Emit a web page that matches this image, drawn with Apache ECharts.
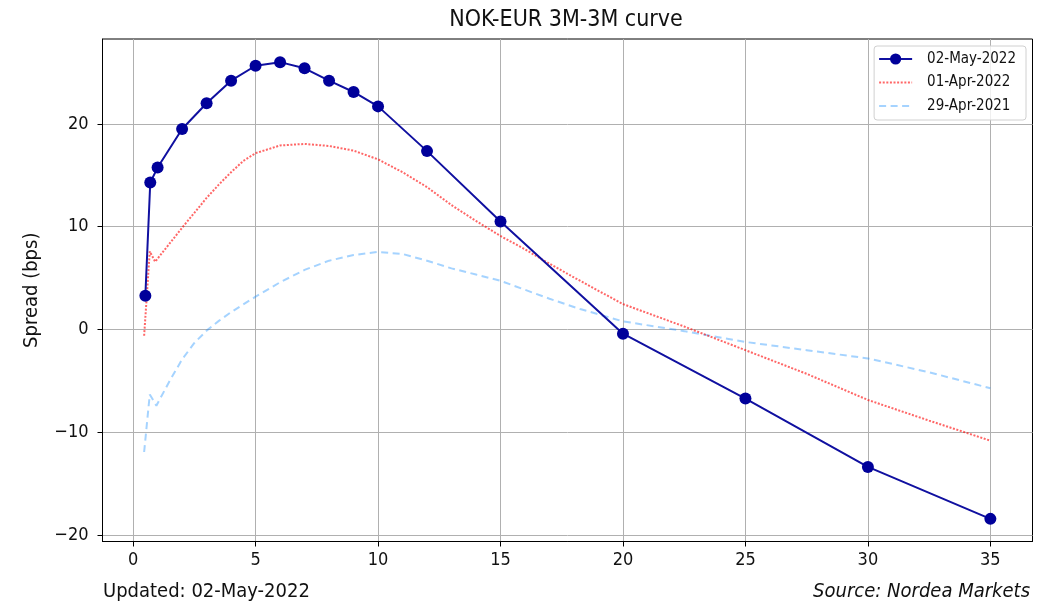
<!DOCTYPE html>
<html>
<head>
<meta charset="utf-8">
<script src="https://cdn.jsdelivr.net/npm/echarts@6/dist/echarts.min.js"></script>
<style>
html,body{margin:0;padding:0;background:#fff;}
#chart{width:1050px;height:605px;}
</style>
</head>
<body>
<div id="chart"></div>
<script>
// ---- data ----
const seriesNames = ['02-May-2022', '01-Apr-2022', '29-Apr-2021'];

const xMay2022 = [0.5, 0.7, 1, 2, 3, 4, 5, 6, 7, 8, 9, 10, 12, 15, 20, 25, 30, 35];
const yMay2022 = [3.3, 14.3, 15.75, 19.5, 22.0, 24.2, 25.65, 26.0, 25.4, 24.2, 23.1, 21.7, 17.35, 10.5, -0.4, -6.7, -13.35, -18.4];

const xApr2022 = [0.45, 0.68, 0.9, 1.5, 2, 2.5, 3, 3.5, 4, 4.5, 5, 6, 7, 8, 9, 10, 11, 12, 13, 14, 15, 16, 17, 18, 19, 20, 22.5, 25, 27.5, 30, 32.5, 35];
const yApr2022 = [-0.6, 7.6, 6.6, 8.4, 9.9, 11.35, 12.8, 14.1, 15.3, 16.4, 17.15, 17.9, 18.05, 17.85, 17.4, 16.55, 15.3, 13.85, 12.1, 10.56, 9.1, 7.8, 6.4, 5.07, 3.77, 2.48, 0.3, -2.0, -4.3, -6.84, -8.85, -10.8];

const xApr2021 = [0.45, 0.68, 0.95, 1.5, 2, 2.5, 3, 3.5, 4, 5, 6, 7, 8, 9, 10, 11, 12, 13, 14, 15, 17, 18.25, 20, 22.5, 25, 27.5, 30, 32.5, 35];
const yApr2021 = [-11.9, -6.3, -7.4, -4.95, -2.9, -1.3, -0.1, 0.85, 1.7, 3.2, 4.6, 5.8, 6.7, 7.25, 7.55, 7.35, 6.7, 5.95, 5.35, 4.74, 3.0, 2.0, 0.8, -0.15, -1.2, -2.0, -2.8, -4.15, -5.7];

const xTicks = [0, 5, 10, 15, 20, 25, 30, 35];
const yTicks = [-20, -10, 0, 10, 20];

const titleText = 'NOK-EUR 3M-3M curve';
const yAxisName = 'Spread (bps)';
const noteLeft = 'Updated: 02-May-2022';
const noteRight = 'Source: Nordea Markets';

// ---- chart ----
const FONT = "'DejaVu Sans Condensed', 'DejaVu Sans', sans-serif";
const pairs = (xs, ys) => xs.map((x, i) => [x, ys[i]]);
const fmt = v => (v < 0 ? '\u2212' + Math.abs(v) : String(v));

const chart = echarts.init(document.getElementById('chart'), null, {renderer: 'canvas'});
chart.setOption({
  animation: false,
  backgroundColor: '#fff',
  textStyle: {fontFamily: FONT, color: '#111'},
  grid: {left: 102.5, right: 17.5, top: 39, bottom: 63.5, show: true, borderColor: '#000', borderWidth: 1, backgroundColor: 'transparent'},
  xAxis: {
    type: 'value', min: -1.25, max: 36.72,
    axisLine: {show: true, onZero: false, lineStyle: {color: '#000', width: 1}},
    axisTick: {show: true, customValues: xTicks, length: 5, lineStyle: {color: '#000'}},
    axisLabel: {customValues: xTicks, formatter: fmt, fontSize: 18, color: '#111', fontFamily: FONT, margin: 10},
    splitLine: {show: true, lineStyle: {color: '#b0b0b0', width: 1}}
  },
  yAxis: {
    type: 'value', min: -20.6, max: 28.25,
    name: yAxisName, nameLocation: 'middle', nameGap: 61, nameRotate: 90,
    nameTextStyle: {fontSize: 20, color: '#111', fontFamily: FONT},
    axisLine: {show: true, onZero: false, lineStyle: {color: '#000', width: 1}},
    axisTick: {show: true, customValues: yTicks, length: 5, lineStyle: {color: '#000'}},
    axisLabel: {customValues: yTicks, formatter: fmt, fontSize: 18, color: '#111', fontFamily: FONT, margin: 14},
    splitLine: {show: true, lineStyle: {color: '#b0b0b0', width: 1}}
  },
  legend: {
    data: [
      {name: seriesNames[0]},
      {name: seriesNames[1], itemStyle: {opacity: 0}},
      {name: seriesNames[2], itemStyle: {opacity: 0}}
    ],
    orient: 'vertical', right: 24, top: 46,
    padding: [5, 10, 6, 4],
    itemWidth: 33, itemHeight: 14, itemGap: 7.5,
    backgroundColor: 'rgba(255,255,255,0.8)', borderColor: '#d0d0d0', borderWidth: 1, borderRadius: 3,
    textStyle: {fontSize: 15, lineHeight: 16, color: '#111', fontFamily: FONT, padding: [0, 0, 0, 10]}
  },
  graphic: [
    {type: 'text', x: 566, y: 20, style: {text: titleText, font: "23px " + FONT, fill: '#111', textAlign: 'center', textVerticalAlign: 'middle'}},
    {type: 'text', x: 103, y: 592, style: {text: noteLeft, font: "20px " + FONT, fill: '#111', textAlign: 'left', textVerticalAlign: 'middle'}},
    {type: 'text', x: 1030, y: 592, style: {text: noteRight, font: "italic 20px " + FONT, fill: '#111', textAlign: 'right', textVerticalAlign: 'middle'}}
  ],
  series: [
    {name: seriesNames[2], type: 'line', data: pairs(xApr2021, yApr2021), symbol: 'none', z: 2,
     lineStyle: {color: 'rgba(30,144,255,0.4)', width: 2, type: [7, 4.5]}, itemStyle: {color: 'rgba(30,144,255,0.4)', opacity: 0}},
    {name: seriesNames[1], type: 'line', data: pairs(xApr2022, yApr2022), symbol: 'none', z: 3,
     lineStyle: {color: 'rgba(255,0,0,0.6)', width: 2, type: [2, 1.6]}, itemStyle: {color: 'rgba(255,0,0,0.6)', opacity: 0}},
    {name: seriesNames[0], type: 'line', data: pairs(xMay2022, yMay2022), symbol: 'circle', symbolSize: 12, showSymbol: true, z: 4,
     lineStyle: {color: '#1010a0', width: 2}, itemStyle: {color: '#00009a'}}
  ]
});
</script>
</body>
</html>
